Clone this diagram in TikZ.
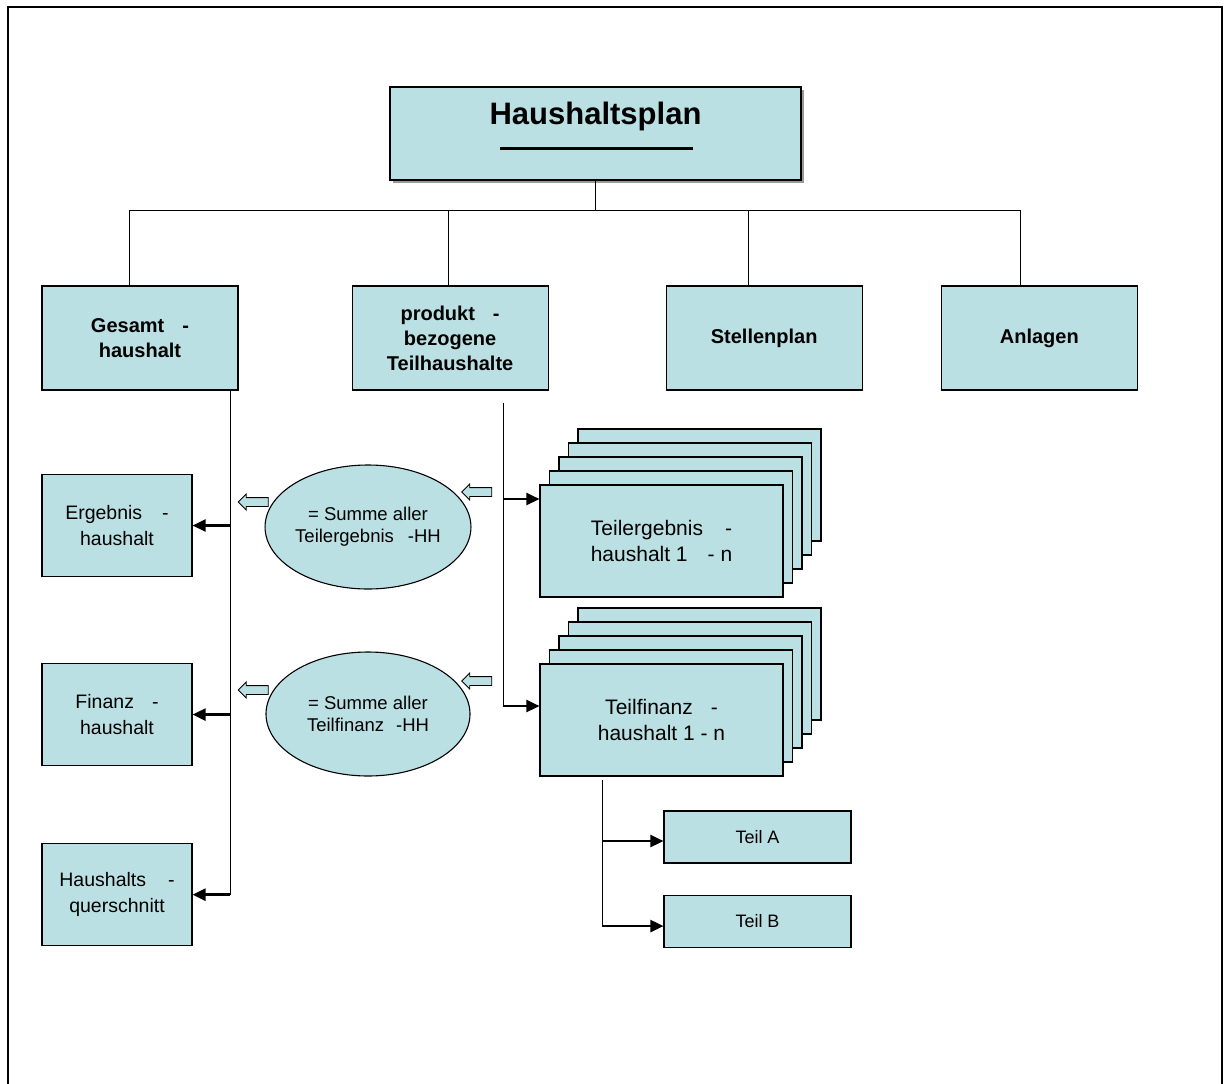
\documentclass[tikz,border=0pt]{standalone}
\usepackage{fontspec}
\setmainfont{Liberation Sans}
\usepackage{tikz}
\usetikzlibrary{positioning}
\usetikzlibrary{arrows.meta}
\usetikzlibrary{shapes.geometric}
\usetikzlibrary{shapes.arrows}
\usetikzlibrary{shadows}
\definecolor{hhblue}{RGB}{187,224,227}

\begin{document}
\begin{tikzpicture}
		[x=1pt, y=-1pt,
		box/.style={rectangle, draw=black, fill=hhblue, line width=1.1pt, align=center, inner sep=0pt},
		mainbox/.style={box, minimum width=196pt, minimum height=104pt, font=\fontsize{20}{25}\selectfont\bfseries},
		sidebox/.style={box, minimum width=150pt, minimum height=102pt, font=\fontsize{19.5}{26}\selectfont},
		stackbox/.style={box, minimum width=243pt, minimum height=112pt, font=\fontsize{21}{26}\selectfont},
		partbox/.style={box, minimum width=187pt, minimum height=52pt, font=\fontsize{18}{21}\selectfont},
		sumnode/.style={ellipse, draw=black, fill=hhblue, line width=1.1pt, minimum width=204pt, minimum height=124pt, align=center, inner sep=0pt, font=\fontsize{18.5}{22}\selectfont},
		hollow/.style={single arrow, draw=black, fill=hhblue, line width=0.9pt, shape border rotate=180, minimum height=30pt, minimum width=15pt, single arrow head extend=3.5pt, inner xsep=0pt, inner ysep=4pt},
		arr/.style={-{Triangle[length=13pt, width=12pt]}, line width=2.5pt},
		link/.style={line width=1pt}]
		\useasboundingbox (0,0) rectangle (1226,1084);
		\draw[line width=1.2pt] (8,1084) -- (8,7) -- (1222,7) -- (1222,1084);

		\node[box, minimum width=411pt, minimum height=93pt, drop shadow={shadow xshift=3pt, shadow yshift=-3pt, fill=gray!80, opacity=1}] (plan) at (595.5,133.5) {};
		\node[font=\fontsize{31}{36}\selectfont\bfseries] (plantitle) at ([yshift=17pt]plan.center) {Haushaltsplan};
		\draw[line width=3pt] ([xshift=-96pt, yshift=-14.5pt]plan.center) -- ([xshift=97pt, yshift=-14.5pt]plan.center);

		\node[mainbox] (gesamt) at (140,338) {Gesamt\hspace{18pt}-\\haushalt};
		\node[mainbox, right=113pt of gesamt] (produkt) {produkt\hspace{18pt}-\\bezogene\\Teilhaushalte};
		\node[mainbox, right=117pt of produkt] (stellen) {Stellenplan};
		\node[mainbox, right=78pt of stellen] (anlagen) {Anlagen};

		\node[sidebox] (ergebnis) at (117,525.5) {Ergebnis\hspace{20pt}-\\haushalt};
		\node[sidebox, below=86pt of ergebnis] (finanz) {Finanz\hspace{18pt}-\\haushalt};
		\node[sidebox, below=77pt of finanz] (quer) {Haushalts\hspace{22pt}-\\querschnitt};

		\node[sumnode] (summe1) at (368,527) {= Summe aller\\Teilergebnis\hspace{14pt}-HH};
		\node[sumnode] (summe2) at (368,714) {= Summe aller\\Teilfinanz\hspace{12pt}-HH};
		\node[hollow] (pfeil1l) at ([shift={(-112.5,-25)}]summe1.center) {};
		\node[hollow] (pfeil1r) at ([shift={(111,-35)}]summe1.center) {};
		\node[hollow] (pfeil2l) at ([shift={(-112.5,-24)}]summe2.center) {};
		\node[hollow] (pfeil2r) at ([shift={(111,-33)}]summe2.center) {};

		\coordinate (ergpos) at (661.5,541);
		\coordinate (finpos) at (661.5,720);
		\foreach \k in {4,3,2,1} {
			\node[stackbox] at ([shift={(9.5*\k,-14*\k)}]ergpos) {};
			\node[stackbox] at ([shift={(9.5*\k,-14*\k)}]finpos) {};
		}
		\node[stackbox] (teilerg) at (ergpos) {Teilergebnis\hspace{22pt}-\\haushalt 1\hspace{20pt}- n};
		\node[stackbox] (teilfin) at (finpos) {Teilfinanz\hspace{18pt}-\\haushalt 1 - n};

		\node[partbox] (teila) at (757.5,837) {Teil A};
		\node[partbox, below=31pt of teila] (teilb) {Teil B};

		\coordinate (bar) at ([yshift=-30pt]plan.south);
		\coordinate (gdrop) at ([xshift=-11pt]gesamt.north);
		\coordinate (pdrop) at ([xshift=-2pt]produkt.north);
		\coordinate (sdrop) at ([xshift=-16pt]stellen.north);
		\coordinate (adrop) at ([xshift=-19pt]anlagen.north);
		\draw[link] (plan.south) -- (bar);
		\draw[link] (gdrop) |- (bar) -| (adrop);
		\draw[link] (pdrop) -- (pdrop |- bar);
		\draw[link] (sdrop) -- (sdrop |- bar);

		\coordinate (gline) at ([xshift=90pt]gesamt.south);
		\draw[link] (gline) -- (gline |- quer.east);
		\draw[arr] (gline |- ergebnis.east) -- (ergebnis.east);
		\draw[arr] (gline |- finanz.east) -- (finanz.east);
		\draw[arr] (gline |- quer.east) -- (quer.east);

		\coordinate (pline) at ([xshift=53pt, yshift=-12pt]produkt.south);
		\coordinate (ergin) at ([yshift=42pt]teilerg.west);
		\coordinate (finin) at ([yshift=14pt]teilfin.west);
		\draw[link] (pline) -- (pline |- finin);
		\draw[arr] (pline |- ergin) -- (ergin);
		\draw[arr] (pline |- finin) -- (finin);

		\coordinate (tline) at ([xshift=-59.5pt, yshift=-3pt]teilfin.south);
		\coordinate (ain) at ([yshift=-4pt]teila.west);
		\coordinate (bin) at ([yshift=-5pt]teilb.west);
		\draw[link] (tline) -- (tline |- bin);
		\draw[arr] (tline |- ain) -- (ain);
		\draw[arr] (tline |- bin) -- (bin);
	\end{tikzpicture}
\end{document}
